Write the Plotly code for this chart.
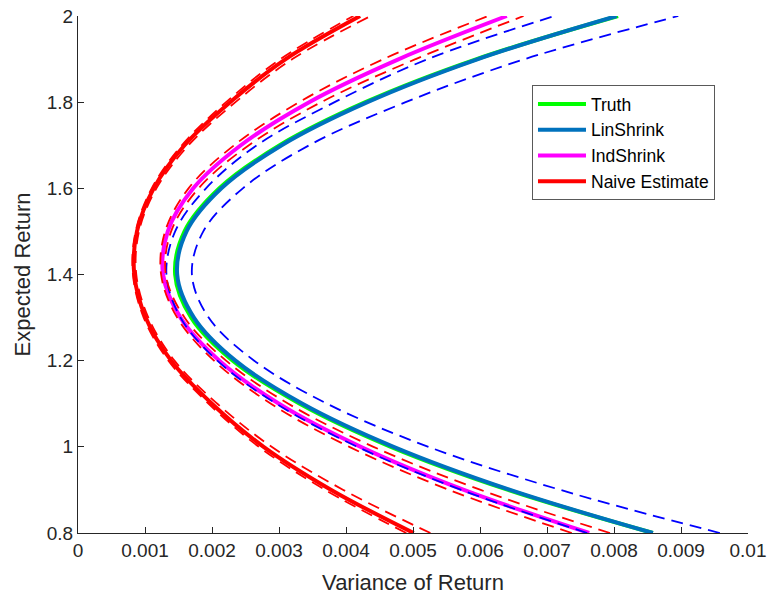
import plotly.graph_objects as go

# Expected return levels (y) at which each curve's variance was read
ret = [0.8, 0.9, 1.0, 1.1, 1.2, 1.3, 1.4, 1.5, 1.6, 1.7, 1.8, 1.9, 2.0]

truth_var = [0.00858, 0.00642, 0.00467, 0.00331, 0.00231, 0.00169, 0.00145,
             0.00159, 0.00211, 0.00301, 0.00429, 0.00595, 0.00806]
lin_var = [0.00858, 0.00645, 0.00471, 0.00335, 0.00235, 0.00173, 0.00148,
           0.00162, 0.00214, 0.00304, 0.00432, 0.00597, 0.00804]
lin_lo = [0.00760, 0.00572, 0.00417, 0.00296, 0.00208, 0.00153, 0.00132,
          0.00145, 0.00191, 0.00267, 0.00383, 0.00522, 0.00711]
lin_hi = [0.00958, 0.00720, 0.00523, 0.00372, 0.00263, 0.00195, 0.00170,
          0.00187, 0.00246, 0.00345, 0.00489, 0.00667, 0.00896]
ind_var = [0.00763, 0.00576, 0.00422, 0.00300, 0.00211, 0.00153, 0.00127,
           0.00134, 0.00172, 0.00243, 0.00345, 0.00479, 0.00640]
ind_lo = [0.00737, 0.00554, 0.00405, 0.00288, 0.00203, 0.00148, 0.00124,
          0.00130, 0.00165, 0.00233, 0.00330, 0.00456, 0.00612]
ind_hi = [0.00794, 0.00601, 0.00441, 0.00314, 0.00221, 0.00159, 0.00131,
          0.00139, 0.00180, 0.00255, 0.00363, 0.00504, 0.00665]
naive_var = [0.00501, 0.00378, 0.00277, 0.00200, 0.00139, 0.00101, 0.00084,
             0.00088, 0.00113, 0.00159, 0.00227, 0.00310, 0.00421]
naive_lo = [0.00490, 0.00369, 0.00270, 0.00195, 0.00135, 0.00098, 0.00082,
            0.00086, 0.00110, 0.00155, 0.00221, 0.00302, 0.00411]
naive_hi = [0.00526, 0.00396, 0.00289, 0.00208, 0.00144, 0.00105, 0.00087,
            0.00091, 0.00117, 0.00165, 0.00235, 0.00320, 0.00437]

x_ticks = [0, 0.001, 0.002, 0.003, 0.004, 0.005, 0.006, 0.007, 0.008, 0.009, 0.01]
x_labels = ["0", "0.001", "0.002", "0.003", "0.004", "0.005", "0.006",
            "0.007", "0.008", "0.009", "0.01"]
y_ticks = [0.8, 1.0, 1.2, 1.4, 1.6, 1.8, 2.0]
y_labels = ["0.8", "1", "1.2", "1.4", "1.6", "1.8", "2"]

GREEN = "#00FF00"
TEAL = "#0072BD"
MAGENTA = "#FF00FF"
RED = "#FF0000"
BLUE = "#0000FF"
DASH = "12px,7px"

fig = go.Figure()

def main(x, name, color, width):
    fig.add_trace(go.Scatter(x=x, y=ret, mode="lines", name=name,
                             line=dict(color=color, width=width, shape="spline", smoothing=1.0)))

def band(x, color):
    fig.add_trace(go.Scatter(x=x, y=ret, mode="lines", showlegend=False, hoverinfo="skip",
                             line=dict(color=color, width=1.8, dash=DASH, shape="spline", smoothing=1.0)))

main(truth_var, "Truth", GREEN, 4)
main(lin_var, "LinShrink", TEAL, 4)
main(ind_var, "IndShrink", MAGENTA, 4)
main(naive_var, "Naive Estimate", RED, 4)

band(lin_lo, BLUE)
band(lin_hi, BLUE)
band(ind_lo, RED)
band(ind_hi, RED)
band(naive_lo, RED)
band(naive_hi, RED)

axis_common = dict(showline=True, linecolor="#262626", linewidth=1, ticks="inside",
                   ticklen=6, tickcolor="#262626", showgrid=False, zeroline=False,
                   mirror=False, automargin=False, tickfont=dict(size=19, color="#262626"))

fig.update_layout(
    width=767, height=595,
    margin=dict(l=78, r=19, t=16, b=62),
    paper_bgcolor="white", plot_bgcolor="white",
    font=dict(family="Liberation Sans, Arial, Helvetica, sans-serif", color="#262626"),
    xaxis=dict(range=[0, 0.01], tickvals=x_ticks, ticktext=x_labels,
               title=dict(text="Variance of Return", font=dict(size=22), standoff=14),
               **axis_common),
    yaxis=dict(range=[0.8, 2.0], tickvals=y_ticks, ticktext=y_labels,
               title=dict(text="Expected Return", font=dict(size=22), standoff=10),
               **axis_common),
    legend=dict(x=0.6776, y=0.8665, xanchor="left", yanchor="top",
                bordercolor="#595959", borderwidth=1, bgcolor="white",
                itemwidth=48,
                font=dict(size=17.5, color="#000000"), tracegroupgap=0),
    showlegend=True,
)

fig.write_html("out.html")
